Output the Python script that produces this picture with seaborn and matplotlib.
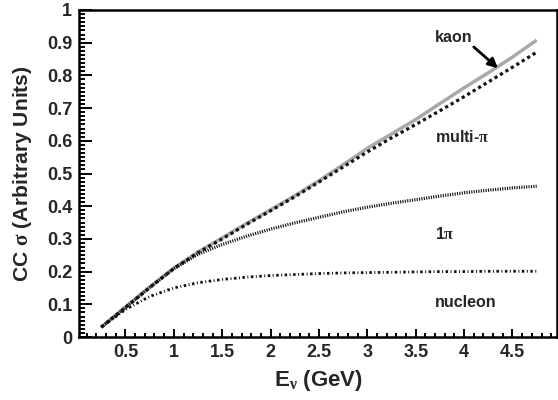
import numpy as np
import pandas as pd
import matplotlib
matplotlib.use("Agg")
import matplotlib.pyplot as plt
from matplotlib.ticker import MultipleLocator
import seaborn as sns

# =====================================================
# DATA
# =====================================================
energy = [0.25, 0.5, 0.75, 1.0, 1.25, 1.5, 1.75, 2.0, 2.25, 2.5, 2.75,
          3.0, 3.25, 3.5, 3.75, 4.0, 4.25, 4.5, 4.75]
kaon = [0.03, 0.092, 0.153, 0.211, 0.260, 0.303, 0.347, 0.389, 0.432, 0.478,
        0.527, 0.577, 0.621, 0.665, 0.714, 0.762, 0.808, 0.856, 0.908]
multi_pi = [0.03, 0.090, 0.151, 0.209, 0.258, 0.300, 0.344, 0.386, 0.429, 0.474,
            0.520, 0.566, 0.609, 0.650, 0.692, 0.735, 0.780, 0.825, 0.871]
one_pi = [0.03, 0.090, 0.151, 0.209, 0.253, 0.283, 0.308, 0.330, 0.349, 0.366,
          0.383, 0.397, 0.409, 0.420, 0.431, 0.441, 0.449, 0.456, 0.461]
nucleon = [0.03, 0.084, 0.124, 0.150, 0.166, 0.176, 0.183, 0.188, 0.191, 0.194,
           0.196, 0.197, 0.198, 0.199, 0.200, 0.200, 0.201, 0.201, 0.201]

x_ticks = [0.5, 1, 1.5, 2, 2.5, 3, 3.5, 4, 4.5]
x_tick_labels = ['0.5', '1', '1.5', '2', '2.5', '3', '3.5', '4', '4.5']
y_ticks = [0, 0.1, 0.2, 0.3, 0.4, 0.5, 0.6, 0.7, 0.8, 0.9, 1.0]
y_tick_labels = ['0', '0.1', '0.2', '0.3', '0.4', '0.5', '0.6', '0.7', '0.8', '0.9', '1']

# =====================================================
# STYLE
# =====================================================
sns.set_theme(style='ticks')
plt.rcParams['font.family'] = ['Liberation Sans', 'DejaVu Sans']
plt.rcParams['font.weight'] = 'bold'
# greek letters upright and light, like the Symbol font of the original
plt.rcParams['mathtext.fontset'] = 'custom'
plt.rcParams['mathtext.rm'] = 'Liberation Serif'
plt.rcParams['mathtext.it'] = 'Liberation Serif'
plt.rcParams['mathtext.bf'] = 'Liberation Serif:bold'

fig = plt.figure(figsize=(5.58, 4.0), dpi=100)
ax = fig.add_axes([0.1416, 0.1575, 0.8566, 0.8175])

# =====================================================
# CURVES
# =====================================================
sns.lineplot(x=energy, y=kaon, ax=ax, color='#a9a9a9', linewidth=2.5,
             linestyle='-', solid_capstyle='butt')
sns.lineplot(x=energy, y=multi_pi, ax=ax, color='#111111', linewidth=2.3,
             linestyle=(0, (1, 1.0)))
sns.lineplot(x=energy, y=one_pi, ax=ax, color='#111111', linewidth=2.3,
             linestyle=(0, (0.35, 0.4)))
sns.lineplot(x=energy, y=nucleon, ax=ax, color='#111111', linewidth=2.0,
             linestyle=(0, (0.9, 0.9, 0.35, 0.9)))

# =====================================================
# LABELS
# =====================================================
lab_kw = dict(fontsize=11.5, fontweight='bold', ha='left', va='center')
ax.text(3.70, 0.917, 'kaon', **lab_kw)
ax.text(3.70, 0.611, r'multi-$\pi$', **lab_kw)
ax.text(3.70, 0.314, r'1$\pi$', **lab_kw)
ax.text(3.70, 0.105, 'nucleon', **lab_kw)
ax.annotate('', xy=(4.35, 0.822), xytext=(4.10, 0.887),
            arrowprops=dict(arrowstyle='-|>', color='black', lw=2.0,
                            mutation_scale=14, shrinkA=0, shrinkB=0))

# =====================================================
# AXES
# =====================================================
ax.set_xlim(0.02, 4.96)
ax.set_ylim(0, 1)
ax.set_xticks(x_ticks)
ax.set_xticklabels(x_tick_labels)
ax.set_yticks(y_ticks)
ax.set_yticklabels(y_tick_labels)
ax.xaxis.set_minor_locator(MultipleLocator(0.1))
ax.yaxis.set_minor_locator(MultipleLocator(0.0125))

ax.tick_params(axis='both', which='both', direction='in', top=False, right=False,
               labelsize=13, width=1.4, color='black')
ax.tick_params(axis='x', which='major', length=6, pad=5)
ax.tick_params(axis='x', which='minor', length=3)
ax.tick_params(axis='y', which='major', length=9, pad=5)
ax.tick_params(axis='y', which='minor', length=4.5)
for lab in ax.get_xticklabels() + ax.get_yticklabels():
    lab.set_fontweight('bold')

for side in ['left', 'right', 'top', 'bottom']:
    ax.spines[side].set_visible(True)
    ax.spines[side].set_linewidth(1.8)
    ax.spines[side].set_color('black')

ax.set_xlabel(r'E$_{\nu}$ (GeV)', fontsize=16, fontweight='bold', labelpad=5)
ax.set_ylabel(r'CC $\sigma$ (Arbitrary Units)', fontsize=15.2, fontweight='bold', labelpad=9)

fig.savefig('out.png', dpi=100)
